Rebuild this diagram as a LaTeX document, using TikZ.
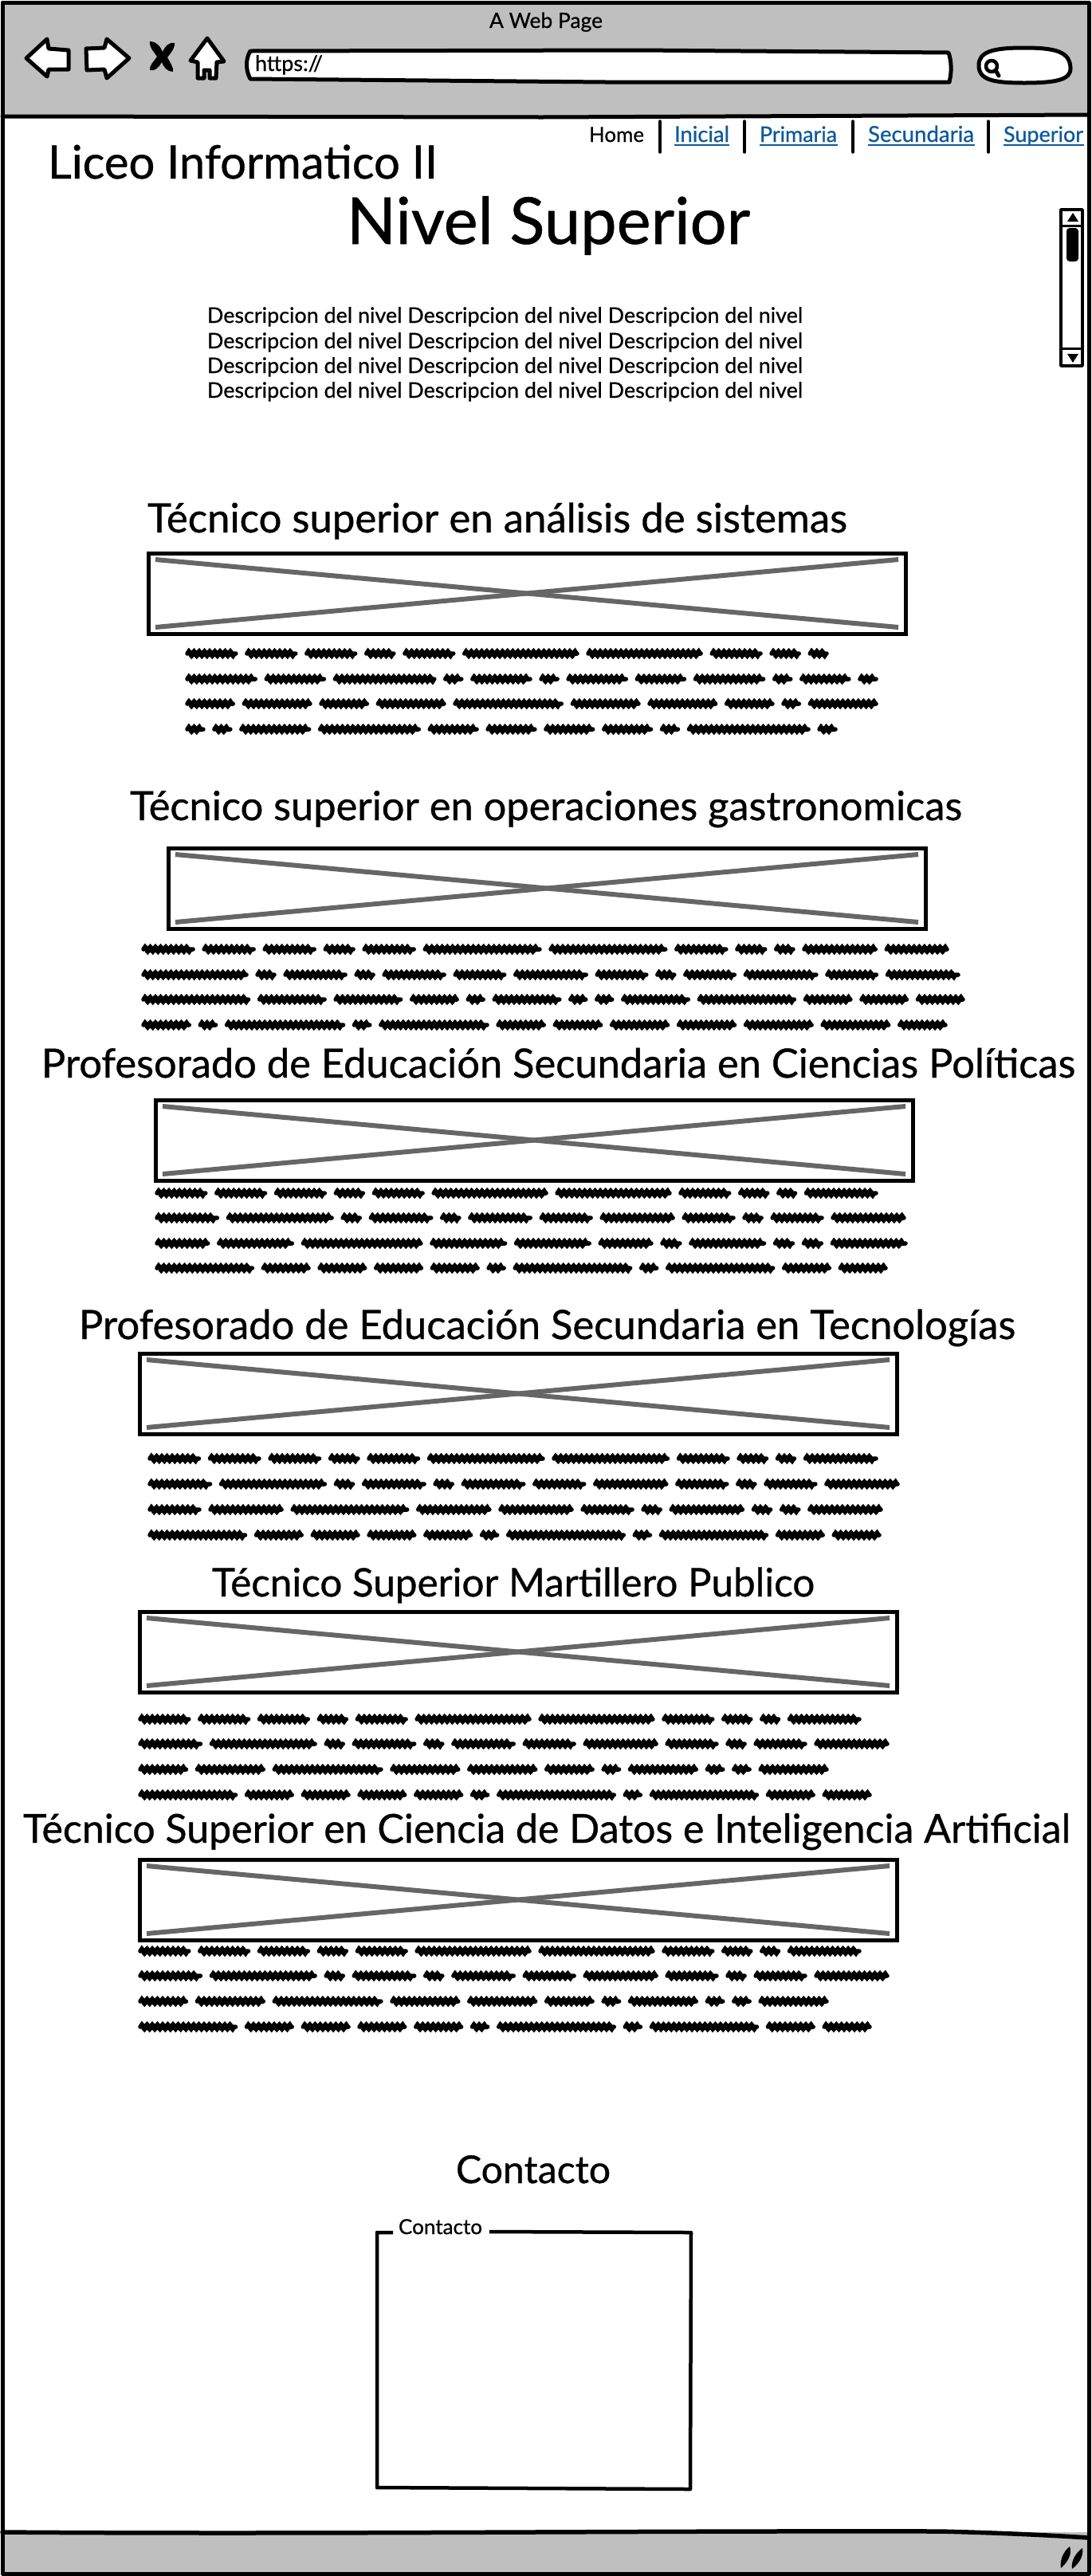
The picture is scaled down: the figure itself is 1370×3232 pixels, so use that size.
\documentclass[tikz,border=0pt]{standalone}
\usepackage{fontspec}
\usepackage{graphicx}
\setmainfont[FakeBold=0.7]{Lato}
\usetikzlibrary{decorations.pathmorphing,calc}
\definecolor{chrome}{HTML}{BFBFBF}
\definecolor{crossgray}{HTML}{666666}
\definecolor{linkblue}{HTML}{0F5A9C}
\tikzset{
  x=1pt,y=-1pt,
  sk/.style={draw=black,line width=5pt,line join=round,line cap=round},
  imgbox/.style={draw=black,line width=5pt,fill=white,inner sep=0pt,outer sep=0pt,anchor=north west},
  crossline/.style={draw=crossgray,line width=6pt},
  lbl/.style={inner sep=0pt,outer sep=0pt,anchor=base west,text=black},
  linklbl/.style={lbl,text=linkblue},
  linkline/.style={draw=linkblue,line width=2.5pt},
  glyphline/.style={draw=black,line width=4.5pt,line cap=round,line join=round},
  scribble/.style={draw=black,line width=5.5pt,line cap=round,
    decorate,decoration={snake,segment length=6.5pt,amplitude=3pt}},
}
\newcommand{\fitlbl}[6][lbl]{% style, name, x, baseline, width, text
  \node[#1] (#2) at (#3,#4) {\resizebox{#5pt}{!}{\fontsize{40}{48}\selectfont #6}};}
\newcommand{\imgph}[5]{% name x y w h
  \node[imgbox,minimum width=#4pt,minimum height=#5pt] (#1) at (#2,#3) {};
  \draw[crossline] ($(#1.north west)+(9,8)$) -- ($(#1.south east)+(-9,-8)$);
  \draw[crossline] ($(#1.south west)+(9,-8)$) -- ($(#1.north east)+(-9,8)$);}
% x, y, x of the line's end, word lengths
\newcommand{\scribline}[4]{%
  \gdef\chars{0}\gdef\words{0}%
  \foreach \n in {#4}{%
    \pgfmathsetmacro{\a}{\chars+\n}\global\let\chars\a
    \pgfmathsetmacro{\b}{\words+1}\global\let\words\b}%
  \pgfmathsetmacro{\cw}{(#3-#1-8*(\words-1))/\chars}%
  \pgfmathsetmacro{\curx}{#1}%
  \foreach \n in {#4}{%
    \pgfmathsetmacro{\endx}{\curx+\cw*\n}%
    \draw[scribble] (\curx+3,#2) -- (\endx-3,#2);
    \pgfmathsetmacro{\nextx}{\endx+8}%
    \global\let\curx\nextx
  }}
\begin{document}
\begin{tikzpicture}
\useasboundingbox (0,0) rectangle (1370,3232);
\fill[white] (0,0) rectangle (1370,3232);
% chrome
\fill[chrome] (3,3) rectangle (1366,146);
\fill[chrome] (3,3177) rectangle (1366,3229);
\draw[sk] (3,146) -- (680,147) -- (1366,144);
\draw[sk,line width=5.5pt] (3,3177) .. controls (400,3180) and (800,3175) .. (1180,3176) .. controls (1260,3178) and (1320,3181) .. (1366,3184);
\draw[sk] (3,3) rectangle (1366,3229);
% nav icons
\draw[sk,fill=white] (33,73) -- (59,49) -- (61,61) -- (86,63) -- (86,87) -- (61,87) -- (59,96) -- cycle;
\draw[sk,fill=white] (162,73) -- (134,49) -- (131,60) -- (108,61) -- (109,88) -- (131,87) -- (134,98) -- cycle;
\fill[black] (188,52) .. controls (197,52) and (202,60) .. (204,65) .. controls (207,58) and (213,52) .. (219,54)
  .. controls (220,60) and (213,68) .. (210,72) .. controls (213,78) and (218,84) .. (217,90)
  .. controls (210,90) and (205,84) .. (203,78) .. controls (200,84) and (194,90) .. (188,88)
  .. controls (187,82) and (194,76) .. (197,71) .. controls (194,66) and (187,60) .. (188,52) -- cycle;
\draw[sk,fill=white] (260,48) -- (281,77) -- (272,78) -- (271,98) -- (263,98) -- (263,88) -- (256,88) -- (256,98) -- (248,98) -- (248,78) -- (239,76) -- cycle;
% url and search
\draw[sk,fill=white] (314,64) -- (800,63) -- (1190,66) .. controls (1194,78) and (1194,90) .. (1191,103) -- (760,103) -- (314,99) .. controls (308,88) and (308,74) .. (314,64) -- cycle;
\fitlbl{urltext}{320}{89}{85}{https://}
\draw[sk,fill=white] (1228,82) .. controls (1228,65) and (1245,60) .. (1285,60) .. controls (1325,60) and (1342,65) .. (1343,85) .. controls (1344,100) and (1325,104) .. (1285,104) .. controls (1245,104) and (1228,100) .. (1228,82) -- cycle;
\draw[glyphline] (1244,83) circle (7);
\draw[glyphline,line width=5pt] (1249,88) -- (1253,95);
\fitlbl{pagetitle}{614}{35}{142}{A Web Page}
% navigation bar
\fitlbl{home}{739}{178}{69}{Home}
\coordinate (s1a) at (828,152); \coordinate (s1b) at (828,191);
\draw[glyphline,line width=3.5pt] (s1a) -- (s1b);
\fitlbl[linklbl]{inicial}{846}{178}{69}{Inicial}
\draw[linkline] (846,182) -- (915,182);
\coordinate (s2a) at (934,152); \coordinate (s2b) at (934,191);
\draw[glyphline,line width=3.5pt] (s2a) -- (s2b);
\fitlbl[linklbl]{primaria}{953}{178}{97}{Primaria}
\draw[linkline] (953,182) -- (1051,182);
\coordinate (s3a) at (1070,152); \coordinate (s3b) at (1070,191);
\draw[glyphline,line width=3.5pt] (s3a) -- (s3b);
\fitlbl[linklbl]{secundaria}{1089}{178}{133}{Secundaria}
\draw[linkline] (1089,182) -- (1223,182);
\coordinate (s4a) at (1240,152); \coordinate (s4b) at (1240,191);
\draw[glyphline,line width=3.5pt] (s4a) -- (s4b);
\fitlbl[linklbl]{superior}{1259}{178}{100}{Superior}
\draw[linkline] (1259,182) -- (1360,182);
% scrollbar
\draw[glyphline,fill=white,line width=3.5pt] (1331,263) rectangle (1358,459);
\draw[glyphline,line width=3pt] (1331,283) -- (1358,283);
\draw[glyphline,line width=3pt] (1331,437) -- (1358,437);
\fill[black] (1346,267) -- (1353,278) -- (1339,278) -- cycle;
\fill[black] (1346,455) -- (1353,444) -- (1339,444) -- cycle;
\fill[black,rounded corners=4pt] (1338,286) rectangle (1353,328);
% titles
\fitlbl{liceo}{60}{224}{489}{Liceo Informatico II}
\fitlbl{nivel}{435}{306}{506}{Nivel Superior}
\fitlbl{d1}{260}{405}{747}{Descripcion del nivel Descripcion del nivel Descripcion del nivel}
\fitlbl{d2}{260}{437}{747}{Descripcion del nivel Descripcion del nivel Descripcion del nivel}
\fitlbl{d3}{260}{468}{747}{Descripcion del nivel Descripcion del nivel Descripcion del nivel}
\fitlbl{d4}{260}{499}{747}{Descripcion del nivel Descripcion del nivel Descripcion del nivel}
% section 1
\fitlbl{h1}{185}{668}{878}{Técnico superior en análisis de sistemas}
\imgph{b1}{186}{694}{950}{101}
\scribline{232}{820}{1040}{5,5,5,3,5,11,11,5,3,2}
\scribline{232}{852}{1102}{7,6,10,2,6,2,6,5,7,2,5,2}
\scribline{232}{883}{1102}{5,7,5,7,11,7,7,5,2,7}
\scribline{232}{915}{1051}{2,2,7,10,5,5,5,5,2,12,2}
% section 2
\fitlbl{h2}{163}{1029}{1044}{Técnico superior en operaciones gastronomicas}
\imgph{b2}{211}{1064}{950}{101}
\scribline{177}{1191}{1191}{5,5,5,3,5,11,11,5,3,2,7,6}
\scribline{177}{1223}{1205}{10,2,6,2,6,5,7,5,2,5,7,5,7}
\scribline{177}{1254}{1211}{11,7,7,5,2,7,2,2,7,10,5,5,5}
\scribline{177}{1286}{1189}{5,2,12,2,11,5,5,6,6,7,7,5}
% section 3
\fitlbl{h3}{52}{1352}{1297}{Profesorado de Educación Secundaria en Ciencias Políticas}
\imgph{b3}{195}{1380}{950}{101}
\scribline{194}{1497}{1102}{5,5,5,3,5,11,11,5,3,2,7}
\scribline{194}{1528}{1137}{6,10,2,6,2,6,5,7,5,2,5,7}
\scribline{194}{1560}{1139}{5,7,11,7,7,5,2,7,2,2,7}
\scribline{194}{1591}{1114}{10,5,5,5,5,2,12,2,11,5,5}
% section 4
\fitlbl{h4}{99}{1680}{1175}{Profesorado de Educación Secundaria en Tecnologías}
\imgph{b4}{175}{1698}{950}{101}
\scribline{185}{1830}{1102}{5,5,5,3,5,11,11,5,3,2,7}
\scribline{185}{1862}{1129}{6,10,2,6,2,6,5,7,5,2,5,7}
\scribline{185}{1894}{1108}{5,7,11,7,7,5,2,7,2,2,7}
\scribline{185}{1926}{1106}{10,5,5,5,5,2,12,2,11,5,5}
% section 5
\fitlbl{h5}{266}{2003}{756}{Técnico Superior Martillero Publico}
\imgph{b5}{175}{2022}{950}{101}
\scribline{173}{2157}{1081}{5,5,5,3,5,11,11,5,3,2,7}
\scribline{173}{2188}{1116}{6,10,2,6,2,6,5,7,5,2,5,7}
\scribline{173}{2220}{1040}{5,7,11,7,7,5,2,7,2,2,7}
\scribline{173}{2252}{1094}{10,5,5,5,5,2,12,2,11,5,5}
% section 6
\fitlbl{h6}{29}{2312}{1314}{Técnico Superior en Ciencia de Datos e Inteligencia Artificial}
\imgph{b6}{175}{2333}{950}{101}
\scribline{173}{2448}{1081}{5,5,5,3,5,11,11,5,3,2,7}
\scribline{173}{2479}{1116}{6,10,2,6,2,6,5,7,5,2,5,7}
\scribline{173}{2511}{1040}{5,7,11,7,7,5,2,7,2,2,7}
\scribline{173}{2543}{1094}{10,5,5,5,5,2,12,2,11,5,5}
% contact
\fitlbl{contacto}{572}{2739}{194}{Contacto}
\draw[glyphline,line width=4.5pt,line cap=butt] (493,2801) -- (473,2801) -- (473,3121) -- (866,3123) -- (867,2801) -- (614,2800);
\fitlbl{contactolegend}{500}{2803}{105}{Contacto}
% resize grip
\fill[black] (1342,3195) .. controls (1346,3205) and (1338,3216) .. (1331,3222) .. controls (1329,3212) and (1335,3200) .. (1342,3195) -- cycle;
\fill[black] (1358,3197) .. controls (1360,3208) and (1352,3218) .. (1345,3223) .. controls (1343,3214) and (1350,3202) .. (1358,3197) -- cycle;
\end{tikzpicture}
\end{document}
